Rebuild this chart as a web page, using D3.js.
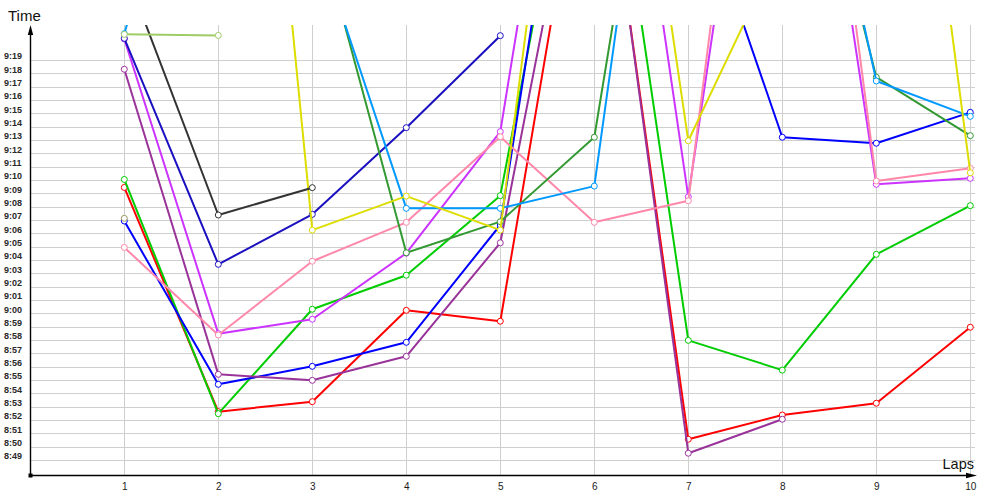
<html>
<script src="https://d3js.org/d3.v7.min.js"></script>
<body style="margin:0;background:#fff">
<script>
    // lap numbers and minute labels
    var laps = [1, 2, 3, 4, 5, 6, 7, 8, 9, 10]
    var yTicks = ['8:49','8:50','8:51','8:52','8:53','8:54','8:55','8:56','8:57','8:58','8:59',
                  '9:00','9:01','9:02','9:03','9:04','9:05','9:06','9:07','9:08','9:09',
                  '9:10','9:11','9:12','9:13','9:14','9:15','9:16','9:17','9:18','9:19']

    // time of day at each lap, null = no value
    var redTimes    = ['9:09:28','8:52:39','8:53:24','9:00:15','8:59:26','9:40:54','8:50:35','8:52:24','8:53:17','8:58:59']
    var greenTimes  = ['9:10:04','8:52:30','9:00:20','9:02:53','9:08:51','9:45:42','8:58:00','8:55:46','9:04:27','9:08:06']
    var blueTimes   = ['9:06:57','8:54:42','8:56:03','8:57:51','9:06:39','9:51:36','9:33:42','9:13:14','9:12:47','9:15:06']
    var purpleTimes = ['9:18:20','8:55:27','8:55:00','8:56:48','9:05:19','9:41:21','8:49:32','8:52:05',null,null]
    var violetTimes = ['9:20:36','8:58:30','8:59:35','9:04:32','9:13:39','9:57:00','9:08:46','9:56:18','9:09:42','9:10:09']
    var navyTimes   = ['9:20:39','9:03:42','9:07:27','9:13:57','9:20:51',null,null,null,null,null]
    var pinkTimes   = ['9:04:58','8:58:24','9:03:56','9:06:51','9:13:16','9:06:51','9:08:28','10:03:36','9:09:57','9:10:54']
    var forestTimes = [null,null,'9:30:39','9:04:34','9:06:54','9:13:14','9:56:12','9:45:54','9:17:44','9:13:21']
    var skyTimes    = ['9:21:00','9:45:00','9:29:03','9:07:54','9:07:54','9:09:34','10:00:18','9:49:30','9:17:27','9:14:48']
    var yellowTimes = [null,'10:18:12','9:06:16','9:08:49','9:06:16','10:01:00','9:12:58','9:27:48','10:04:30','9:10:34']
    var greyTimes   = ['9:25:55','9:07:24','9:09:27',null,null,null,null,null,null,null]
    var limeTimes   = ['9:20:57','9:20:52',null,null,null,null,null,null,null,null]
    var oliveTimes  = ['9:07:09',null,null,null,null,null,null,null,null,null]

    var series = [
        {times: redTimes, color: '#ff0000'},
        {times: greenTimes, color: '#00cc00'},
        {times: blueTimes, color: '#0000ff'},
        {times: purpleTimes, color: '#993399'},
        {times: violetTimes, color: '#cc33ff'},
        {times: navyTimes, color: '#1a10c0'},
        {times: pinkTimes, color: '#ff88aa'},
        {times: forestTimes, color: '#339933'},
        {times: skyTimes, color: '#0099ff'},
        {times: yellowTimes, color: '#dddd00'},
        {times: greyTimes, color: '#333333'},
        {times: limeTimes, color: '#a0cc66'},
        {times: oliveTimes, color: '#999966'}
    ]

    function secs(s){ var p = s.split(':').map(Number); return p[0]*3600 + p[1]*60 + (p[2] || 0) }

    var width = 1000
    var height = 500
    var svg = d3.select('body').append('svg').attr('width', width).attr('height', height)

    var x = d3.scaleLinear().domain([0, 10]).range([30.3, 970.3])
    var y = d3.scaleLinear().domain([secs('8:47:54'), secs('9:21:39')]).range([475, 25])

    svg.append('defs').append('clipPath').attr('id', 'plot')
        .append('rect').attr('x', 30).attr('y', 25).attr('width', 946).attr('height', 450)

    // grid
    var grid = svg.append('g').attr('stroke', '#cfcfcf').attr('stroke-width', 1).attr('shape-rendering', 'crispEdges')
    grid.selectAll('.h').data(yTicks).enter().append('line')
        .attr('x1', 30).attr('x2', 975)
        .attr('y1', function(d){ return y(secs(d)) }).attr('y2', function(d){ return y(secs(d)) })
    grid.selectAll('.v').data(laps).enter().append('line')
        .attr('y1', 25).attr('y2', 475)
        .attr('x1', function(d){ return x(d) }).attr('x2', function(d){ return x(d) })

    // y labels
    var yAxis = svg.append('g').call(d3.axisRight(y).tickValues(yTicks.map(secs))
        .tickFormat(function(d, i){ return yTicks[i] }).tickSize(0))
    yAxis.select('.domain').remove()
    yAxis.selectAll('text').attr('x', 4).attr('dy', -1.5)
        .style('font-family', '"Liberation Sans", Arial, sans-serif').style('font-size', '9px')
        .style('font-weight', 'bold').attr('fill', '#2a2a2a')

    // x labels
    var xAxis = svg.append('g').attr('transform', 'translate(0,475)')
        .call(d3.axisBottom(x).tickValues(laps).tickSize(0).tickPadding(8))
    xAxis.select('.domain').remove()
    xAxis.selectAll('text').style('font-family', '"Liberation Sans", Arial, sans-serif').style('font-size', '10px').attr('fill', '#1a1a1a')

    // series
    var line = d3.line()
        .defined(function(d){ return d != null })
        .x(function(d, i){ return x(laps[i]) })
        .y(function(d){ return y(secs(d)) })

    var plot = svg.append('g').attr('clip-path', 'url(#plot)')
    series.forEach(function(s){
        plot.append('path').attr('d', line(s.times)).attr('fill', 'none')
            .attr('stroke', s.color).attr('stroke-width', 2).attr('stroke-linejoin', 'round')
        var pts = s.times.map(function(t, i){ return {t: t, lap: laps[i]} }).filter(function(p){ return p.t != null })
        plot.selectAll(null).data(pts).enter().append('circle')
            .attr('cx', function(p){ return x(p.lap) }).attr('cy', function(p){ return y(secs(p.t)) })
            .attr('r', 3).attr('fill', 'white').attr('stroke', s.color).attr('stroke-width', 1)
    })

    // axes with arrows
    svg.append('line').attr('x1', 30.5).attr('x2', 30.5).attr('y1', 475).attr('y2', 32)
        .attr('stroke', 'black').attr('stroke-width', 1.4)
    svg.append('path').attr('d', 'M30.5,25 L27.8,35 L33.2,35 Z').attr('fill', 'black')
    svg.append('line').attr('x1', 30).attr('x2', 970).attr('y1', 475.5).attr('y2', 475.5)
        .attr('stroke', 'black').attr('stroke-width', 1.4)
    svg.append('path').attr('d', 'M977,475.5 L966,472.8 L966,478.2 Z').attr('fill', 'black')
    svg.append('rect').attr('x', 28.5).attr('y', 473.5).attr('width', 4).attr('height', 4).attr('fill', 'black')

    svg.append('text').attr('x', 8).attr('y', 20.5).text('Time')
        .style('font-family', '"Liberation Sans", Arial, sans-serif').style('font-size', '15px').attr('fill', '#111')
    svg.append('text').attr('x', 974).attr('y', 468.5).attr('text-anchor', 'end').text('Laps')
        .style('font-family', '"Liberation Sans", Arial, sans-serif').style('font-size', '14.5px').attr('fill', '#111')
</script>
</body>
</html>
